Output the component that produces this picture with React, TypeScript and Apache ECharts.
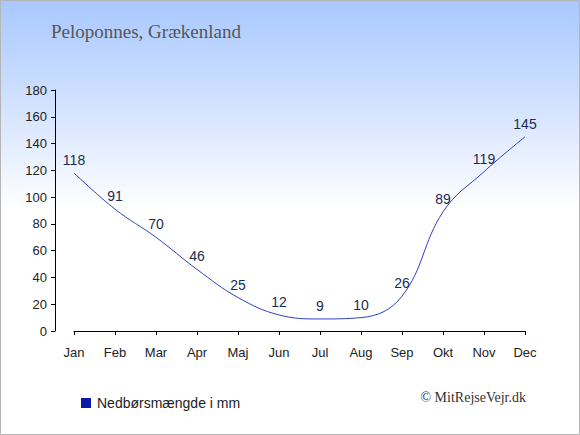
import React, { useEffect, useRef } from "react";
import * as echarts from "echarts";

const months = ["Jan", "Feb", "Mar", "Apr", "Maj", "Jun", "Jul", "Aug", "Sep", "Okt", "Nov", "Dec"];
const precipitation = [118, 91, 70, 46, 25, 12, 9, 10, 26, 89, 119, 145];
const seriesName = "Nedbørsmængde i mm";
const titleText = "Peloponnes, Grækenland";
const copyrightText = "© MitRejseVejr.dk";

export default function App() {
  const ref = useRef<HTMLDivElement>(null);
  useEffect(() => {
    document.body.style.margin = "0";
    const chart = echarts.init(ref.current!, null, { renderer: "svg" });
    chart.setOption({
      animation: false,
      backgroundColor: "transparent",
      grid: { left: 74, right: 55, top: 90, bottom: 104 },
      xAxis: {
        type: "category",
        data: months,
        boundaryGap: false,
        offset: 10,
        axisLine: { show: true, lineStyle: { color: "#000", width: 1 } },
        axisTick: { show: true, length: 4, lineStyle: { color: "#000" } },
        axisLabel: { fontSize: 13, color: "#222", margin: 5, fontFamily: "Liberation Sans, Arial, sans-serif" },
        splitLine: { show: false },
      },
      yAxis: {
        type: "value",
        min: 0,
        max: 180,
        interval: 20,
        offset: 19,
        axisLine: { show: true, lineStyle: { color: "#000", width: 1 } },
        axisTick: { show: true, length: 4, lineStyle: { color: "#000" } },
        axisLabel: { fontSize: 13, color: "#222", margin: 8, fontFamily: "Liberation Sans, Arial, sans-serif" },
        splitLine: { show: false },
      },
      legend: {
        left: 76,
        top: 391,
        itemWidth: 10,
        itemHeight: 10,
        itemGap: 10,
        textStyle: { fontSize: 14, color: "#222", fontFamily: "Liberation Sans, Arial, sans-serif", padding: [0, 0, 0, 1] },
        data: [{ name: seriesName, icon: "rect" }],
      },
      graphic: [
        {
          type: "text",
          left: 51,
          top: 22,
          style: {
            text: titleText,
            fontSize: 19,
            fill: "#555",
            fontFamily: "Liberation Serif, Times New Roman, serif",
          },
        },
        {
          type: "text",
          right: 54,
          top: 390,
          style: {
            text: copyrightText,
            fontSize: 14,
            fill: "#333",
            fontFamily: "Liberation Serif, Times New Roman, serif",
          },
        },
        {
          type: "rect",
          shape: { x: 0.5, y: 0.5, width: 579, height: 434 },
          style: { fill: "none", stroke: "#b5b5b5", lineWidth: 1 },
          silent: true,
        },
      ],
      series: [
        {
          name: seriesName,
          type: "line",
          data: precipitation,
          smooth: 0.4,
          symbol: "circle",
          symbolSize: 0,
          itemStyle: { color: "#0a1aa8" },
          lineStyle: { color: "#2f3fc4", width: 1 },
          label: {
            show: true,
            position: "top",
            distance: 6,
            fontSize: 14,
            color: "#1b2d4f",
            fontFamily: "Liberation Sans, Arial, sans-serif",
          },
        },
      ],
    });
    return () => chart.dispose();
  }, []);
  return (
    <div
      style={{
        width: 580,
        height: 435,
        background: "linear-gradient(to bottom, #a8c8ff 0%, #d4e3ff 25%, #ffffff 48%, #ffffff 100%)",
      }}
    >
      <div ref={ref} style={{ width: 580, height: 435 }} />
    </div>
  );
}
